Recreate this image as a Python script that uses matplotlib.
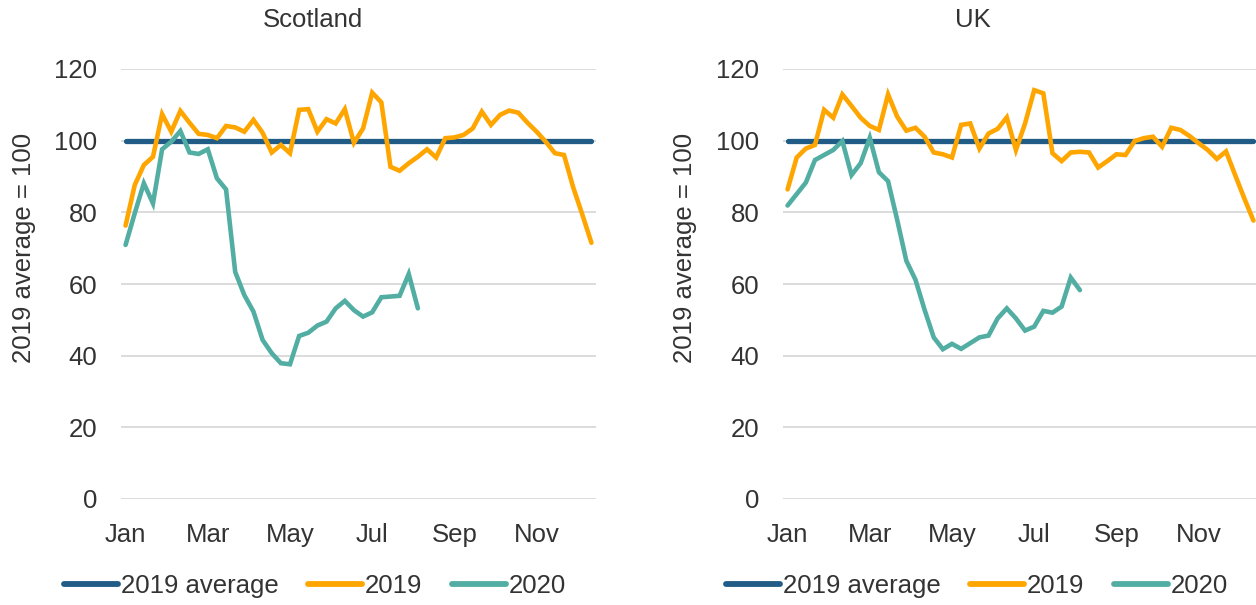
import matplotlib
matplotlib.use("Agg")
import matplotlib.pyplot as plt
from matplotlib.lines import Line2D

# weekly index values, 2019 average = 100
weeks = list(range(52))
month_ticks = [0, 9, 18, 27, 36, 45]
month_labels = ["Jan", "Mar", "May", "Jul", "Sep", "Nov"]

scot_2019 = [76.3, 87.6, 93.2, 95.5, 107.4, 102.5, 108.3, 105.0, 101.9, 101.6,
             100.7, 104.1, 103.7, 102.5, 105.8, 102.2, 96.7, 98.8, 96.5, 108.6,
             108.8, 102.5, 106.0, 104.8, 108.8, 99.4, 103.4, 113.4, 110.7, 92.7,
             91.6, 93.7, 95.5, 97.6, 95.3, 100.7, 100.9, 101.6, 103.4, 108.1,
             104.4, 107.2, 108.4, 107.8, 105.0, 102.5, 99.7, 96.5, 96.0, 87.0,
             79.4, 71.5]
scot_2020 = [70.9, 79.7, 88.1, 82.5, 97.6, 99.7, 102.7, 96.7, 96.3, 97.6,
             89.5, 86.4, 63.4, 56.9, 52.3, 44.4, 40.7, 37.9, 37.6, 45.5,
             46.4, 48.4, 49.5, 53.2, 55.3, 52.7, 50.9, 52.1, 56.3, 56.5,
             56.7, 62.8, 53.2]

uk_2019 = [86.4, 95.3, 97.8, 98.8, 108.6, 106.4, 112.9, 109.7, 106.4, 104.1,
           103.0, 112.9, 106.7, 102.8, 103.6, 101.1, 96.7, 96.2, 95.3, 104.4,
           104.8, 97.8, 102.0, 103.3, 106.5, 97.4, 104.8, 114.1, 113.2, 96.5,
           94.3, 96.7, 96.9, 96.7, 92.5, 94.3, 96.2, 96.0, 99.9, 100.7,
           101.1, 98.3, 103.6, 103.0, 101.3, 99.3, 97.4, 94.9, 97.0, 90.4,
           83.9, 77.7]
uk_2020 = [81.9, 85.1, 88.3, 94.6, 96.0, 97.4, 99.9, 90.4, 93.7, 100.8,
           91.2, 88.7, 77.9, 66.5, 61.2, 52.8, 45.1, 41.8, 43.3, 41.9,
           43.5, 45.1, 45.6, 50.4, 53.2, 50.4, 47.0, 48.1, 52.5, 52.0,
           53.7, 61.8, 58.3]

avg_2019 = [100] * 52

C_AVG = "#205C85"
C_2019 = "#FFA500"
C_2020 = "#52AEA3"
TXT = "#333333"

plt.rcParams["font.family"] = ["Liberation Sans", "DejaVu Sans"]
FS = 18.5

fig = plt.figure(figsize=(12.56, 6.05), dpi=100)
W, H = 1256, 605

# title, data, axes left edge (px), title centre x, y-label centre x
panels = [
    ("Scotland", scot_2019, scot_2020, 121, 313, 24),
    ("UK", uk_2019, uk_2020, 783, 973, 685),
]

for title, s19, s20, left_px, title_x, ylab_x in panels:
    ax = fig.add_axes([left_px / W, (H - 499) / H, 475 / W, 430 / H])
    ax.plot(weeks, avg_2019, color=C_AVG, lw=3.8, solid_capstyle="round", zorder=3)
    ax.plot(weeks, s19, color=C_2019, lw=3.3, solid_capstyle="round",
            solid_joinstyle="miter", zorder=4)
    ax.plot(weeks[:len(s20)], s20, color=C_2020, lw=3.3, solid_capstyle="round",
            solid_joinstyle="miter", zorder=5)
    ax.set_xlim(-0.5, 51.5)
    ax.set_ylim(0, 120)
    ax.set_yticks([0, 20, 40, 60, 80, 100, 120])
    ax.set_xticks(month_ticks)
    ax.set_xticklabels(month_labels)
    ax.grid(axis="y", color="#D9D9D9", lw=1.3)
    ax.set_axisbelow(True)
    for sp in ax.spines.values():
        sp.set_visible(False)
    ax.tick_params(length=0, labelsize=FS, colors=TXT)
    ax.tick_params(axis="y", pad=17)
    ax.tick_params(axis="x", pad=17)
    fig.text(title_x / W, 1 - 20 / H, title, ha="center", va="center",
             fontsize=FS, color=TXT)
    fig.text(ylab_x / W, 1 - 248 / H, "2019 average = 100", rotation=90,
             ha="center", va="center", fontsize=FS, color=TXT)

handles = [
    Line2D([], [], color=C_AVG, lw=4.2, solid_capstyle="round"),
    Line2D([], [], color=C_2019, lw=4.2, solid_capstyle="round"),
    Line2D([], [], color=C_2020, lw=4.2, solid_capstyle="round"),
]
names = ["2019 average", "2019", "2020"]
for cx in (315, 977):
    fig.legend(handles, names, loc="center", bbox_to_anchor=(cx / W, 1 - 586 / H),
               ncol=3, frameon=False, fontsize=FS, handlelength=2.1,
               handletextpad=0.1, columnspacing=1.15, labelcolor=TXT)

fig.savefig("out.png", dpi=100)
